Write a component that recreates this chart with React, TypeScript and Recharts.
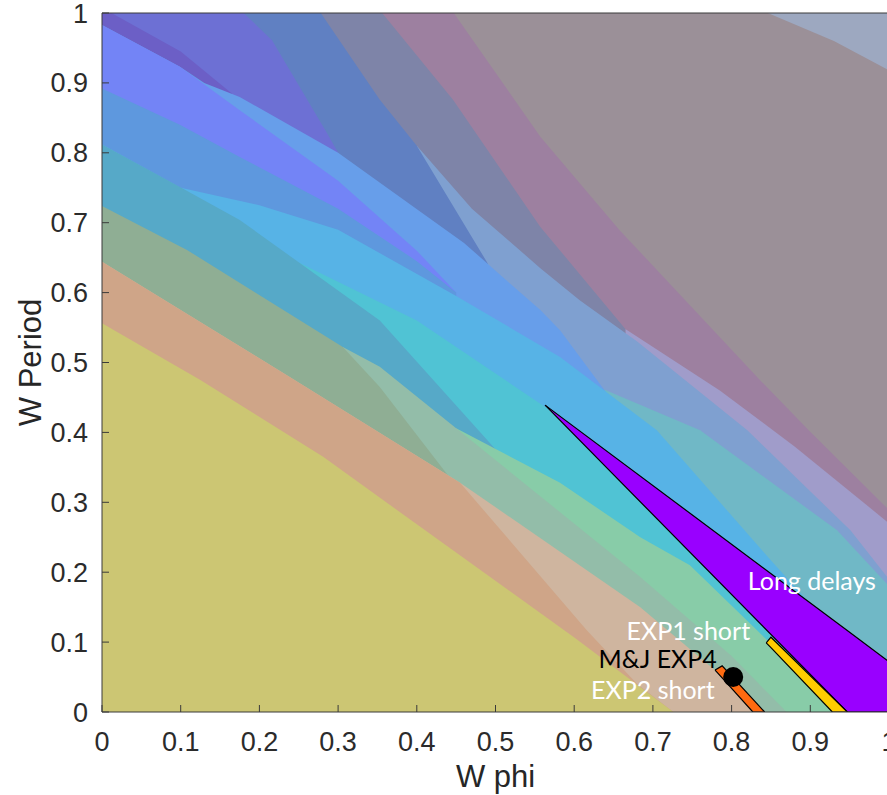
import { ComposedChart, Area, XAxis, YAxis, ReferenceDot, Label } from "recharts";

// --------------------
// Axis ticks
// --------------------
const TICKS = [0, 0.1, 0.2, 0.3, 0.4, 0.5, 0.6, 0.7, 0.8, 0.9, 1];

// --------------------
// Region boundaries: [W phi, W Period] along the upper edge of each coloured band
// (bottom-left band first)
// --------------------
const yellowTop = [[0, 0.556], [0.125, 0.475], [0.281, 0.365], [0.476, 0.207], [0.601, 0.106], [0.726, 0]];
const salmonTop = [[0, 0.644], [0.239, 0.479], [0.455, 0.328], [0.616, 0.117], [0.68, 0.04], [0.726, 0]];
const tanTop = [[0, 0.644], [0.239, 0.479], [0.455, 0.328], [0.684, 0.15], [0.842, 0]];
const greyGreenTop = [[0, 0.724], [0.108, 0.661], [0.306, 0.522], [0.353, 0.465], [0.44, 0.338]];
const paleGreenTop = [[0.306, 0.522], [0.353, 0.494], [0.45, 0.406], [0.684, 0.193], [0.8, 0.08], [0.87, 0]];
const mintTop = [[0.45, 0.406], [0.582, 0.328], [0.684, 0.25], [0.747, 0.21], [0.845, 0.103], [0.94, 0]];
const tealTop = [[0, 0.812], [0.099, 0.751], [0.175, 0.704], [0.353, 0.56], [0.5, 0.376]];
const cyanTop = [[0.25, 0.643], [0.4, 0.56], [0.582, 0.422], [0.75, 0.25], [0.9, 0.1], [1, 0]];
const skyTop = [[0, 0.812], [0.1, 0.75], [0.2, 0.725], [0.3, 0.69], [0.45, 0.595], [0.582, 0.508], [0.705, 0.403], [0.853, 0.213], [1, 0.03]];
const blueTop = [[0, 0.892], [0.099, 0.84], [0.175, 0.794], [0.3, 0.72], [0.4, 0.645], [0.45, 0.6]];
const periwinkleTop = [[0, 0.983], [0.099, 0.923], [0.175, 0.861], [0.3, 0.76], [0.4, 0.66], [0.45, 0.6]];
const cornflowerTop = [[0, 0.983], [0.099, 0.923], [0.13, 0.9], [0.175, 0.88], [0.3, 0.8], [0.46, 0.671], [0.557, 0.575], [0.582, 0.546], [0.64, 0.458]];
const tealGreyTop = [[0.62, 0.47], [0.76, 0.403], [0.934, 0.26], [1, 0.18]];
const darkVioletTop = [[0, 1], [0.012, 1], [0.1, 0.945], [0.165, 0.885]];
const violetTop = [[0, 1], [0.18, 1], [0.216, 0.961], [0.286, 0.828], [0.3, 0.8]];
const steelTop = [[0, 1], [0.278, 1], [0.353, 0.876], [0.4, 0.81], [0.49, 0.642]];
const blueGreyTop = [[0.4, 0.81], [0.47, 0.72], [0.557, 0.635], [0.607, 0.589], [0.68, 0.53], [0.82, 0.403], [0.951, 0.26], [1, 0.19]];
const slateTop = [[0, 1], [0.356, 1], [0.446, 0.876], [0.557, 0.694], [0.665, 0.548]];
const lavenderTop = [[0.665, 0.548], [0.785, 0.46], [0.88, 0.38], [1, 0.27]];
const mauveTop = [[0, 1], [0.447, 1], [0.557, 0.823], [0.658, 0.689], [0.836, 0.475], [0.898, 0.403], [1, 0.289]];
const greyTop = [[0, 1], [0.846, 1], [0.93, 0.96], [1, 0.918]];
const paleTop = [[0, 1], [1, 1]];

// --------------------
// Overlays: [W phi, low, high]
// --------------------
const longDelays = [[0.563, 0.439, 0.439], [0.947, 0, 0.1165], [1, 0, 0.072]];
const exp1Short = [[0.844, 0.099, 0.099], [0.85, 0.092, 0.107], [0.928, 0, 0.021], [0.947, 0, 0]];
const exp2Short = [[0.779, 0.06, 0.06], [0.788, 0.0488, 0.066], [0.827, 0, 0.0183], [0.842, 0, 0]];
const mjExp4 = [0.802, 0.05];

const noteText = ["Long delays", "EXP1 short", "M&J EXP4", "EXP2 short"];
const noteX = [0.902, 0.745, 0.706, 0.7];
const noteY = [0.187, 0.116, 0.076, 0.031];

// colours, painted from the top-right band down
const bands: [number[][], string][] = [
  [paleTop, "#9DA8C0"],
  [greyTop, "#9B9098"],
  [mauveTop, "#9D80A0"],
  [lavenderTop, "#A09CCA"],
  [slateTop, "#7E84A8"],
  [blueGreyTop, "#7FA0D0"],
  [steelTop, "#6080C2"],
  [violetTop, "#6D70D4"],
  [darkVioletTop, "#6C5FC6"],
  [tealGreyTop, "#70B8C6"],
  [cornflowerTop, "#679EEA"],
  [periwinkleTop, "#7384F6"],
  [blueTop, "#5E98DE"],
  [skyTop, "#57B3E6"],
  [cyanTop, "#50C3D4"],
  [tealTop, "#56A9C8"],
  [mintTop, "#88CCA8"],
  [paleGreenTop, "#93BDA9"],
  [greyGreenTop, "#8FAE94"],
  [tanTop, "#CFB59F"],
  [salmonTop, "#CFA588"],
  [yellowTop, "#CCC673"],
];

const toPts = (arr: number[][]) => arr.map(([x, y]) => ({ x, y }));
const toRange = (arr: number[][]) => arr.map(([x, lo, hi]) => ({ x, r: [lo, hi] }));

const AXIS = "#3a3a3a";
const FONT = "'Liberation Sans', Arial, sans-serif";
const tickFont = { fill: "#2b2b2b", fontSize: 27, fontFamily: FONT };
const noteColors = ["#fff", "#fff", "#000", "#fff"];

export default function App() {
  return (
    <div style={{ position: "absolute", left: 0, top: 0, width: 887, height: 795, overflow: "hidden", background: "#fff" }}>
      <ComposedChart width={890} height={795} margin={{ top: 12, right: 0, bottom: 53, left: 42 }}>
        {bands.map(([pts, color], i) => (
          <Area
            key={i}
            data={toPts(pts)}
            dataKey="y"
            type="linear"
            stroke="none"
            fill={color}
            fillOpacity={1}
            isAnimationActive={false}
          />
        ))}

        <Area data={toRange(longDelays)} dataKey="r" type="linear" stroke="#000" strokeWidth={1.2} fill="#9900FF" fillOpacity={1} isAnimationActive={false} />
        <Area data={toRange(exp1Short)} dataKey="r" type="linear" stroke="#000" strokeWidth={1.2} fill="#FFCC00" fillOpacity={1} isAnimationActive={false} />
        <Area data={toRange(exp2Short)} dataKey="r" type="linear" stroke="#000" strokeWidth={1.2} fill="#FF6A10" fillOpacity={1} isAnimationActive={false} />
        <ReferenceDot x={mjExp4[0]} y={mjExp4[1]} r={10} fill="#000" stroke="none" />

        {noteText.map((t, i) => (
          <ReferenceDot
            key={t}
            x={noteX[i]}
            y={noteY[i]}
            r={1}
            fill="none"
            stroke="none"
            label={{ value: t, position: "center", fill: noteColors[i], fontSize: 25, fontFamily: "Lato, 'Open Sans', sans-serif" }}
          />
        ))}

        <XAxis
          type="number"
          dataKey="x"
          domain={[0, 1]}
          ticks={TICKS}
          interval={0}
          allowDataOverflow
          height={30}
          stroke={AXIS}
          tickSize={-7}
          tickMargin={27}
          tick={tickFont}
          tickFormatter={(v: number) => String(v)}
        >
          <Label value="W phi" position="bottom" offset={23} fill="#262626" fontSize={31} fontFamily={FONT} />
        </XAxis>
        <XAxis xAxisId="top" orientation="top" type="number" domain={[0, 1]} ticks={TICKS} interval={0} height={1} stroke={AXIS} tickSize={-7} tick={false} />
        <YAxis
          type="number"
          domain={[0, 1]}
          ticks={TICKS}
          interval={0}
          allowDataOverflow
          width={60}
          stroke={AXIS}
          tickSize={-7}
          tickMargin={21}
          tick={tickFont}
          tickFormatter={(v: number) => String(v)}
        >
          <Label
            content={(props: any) => {
              const vb = props.viewBox || {};
              const cx = vb.x + vb.width - 72;
              const cy = vb.y + vb.height / 2;
              return (
                <text
                  x={cx}
                  y={cy}
                  transform={`rotate(-90, ${cx}, ${cy})`}
                  textAnchor="middle"
                  dominantBaseline="central"
                  fill="#262626"
                  fontSize={31}
                  fontFamily={FONT}
                >
                  W Period
                </text>
              );
            }}
          />
        </YAxis>
        <YAxis yAxisId="right" orientation="right" type="number" domain={[0, 1]} ticks={TICKS} interval={0} width={1} stroke={AXIS} tickSize={-7} tick={false} />
      </ComposedChart>
    </div>
  );
}
